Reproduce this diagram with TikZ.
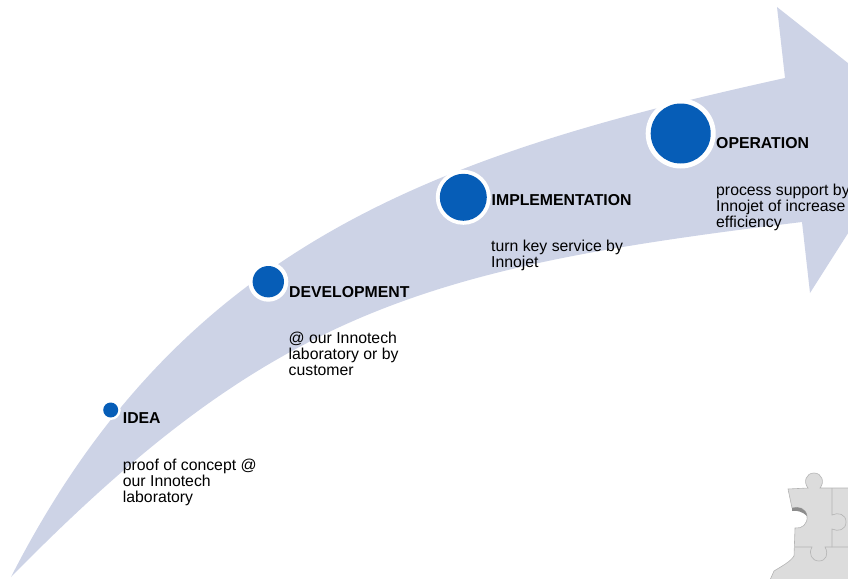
\documentclass[tikz,border=0pt]{standalone}
\usepackage{fontspec}
\setmainfont{Liberation Sans}
\begin{document}
\definecolor{bandfill}{HTML}{CDD3E6}
\definecolor{dotblue}{HTML}{065DB7}
\definecolor{puzzle}{HTML}{DCDCDC}
\definecolor{puzzleedge}{HTML}{B4B4B4}
\tikzset{
  head/.style={anchor=base west, inner sep=0pt, font=\fontsize{15.8}{16}\selectfont\bfseries},
  body/.style={anchor=base west, inner sep=0pt, font=\fontsize{15.8}{16}\selectfont},
  ring/.style={fill=white},
  dot/.style={fill=dotblue},
}
\newcommand{\lines}[1]{\begin{tabular}[t]{@{}l@{}}#1\end{tabular}}
\begin{tikzpicture}[x=1pt,y=-1pt]
  \useasboundingbox (0,0) rectangle (848,578);
  \clip (0,0) rectangle (848,578);

  % curved arrow band
  \path[fill=bandfill]
    (11,577) .. controls (181,244) and (435,155) .. (785,78)
    -- (777,7) -- (920,120) -- (810,293) -- (802,222)
    .. controls (422,268) and (271,312) .. (11,577) -- cycle;

  % milestone dots with white rings
  \fill[ring] (110.7,410) circle (10);
  \fill[dot]  (110.7,410) coordinate (cidea) circle (7.5);
  \fill[ring] (268.3,281.7) circle (20);
  \fill[dot]  (268.3,281.7) coordinate (cdev) circle (15.7);
  \fill[ring] (463.3,197.3) circle (27.5);
  \fill[dot]  (463.3,197.3) coordinate (cimpl) circle (23.5);
  \fill[ring] (680.7,133.5) circle (35);
  \fill[dot]  (680.7,133.5) coordinate (cop) circle (30);

  % stage titles
  \node[head] (idea) at (122.7,423) {IDEA};
  \node[head] (dev)  at (289,297) {DEVELOPMENT};
  \node[head] (impl) at (491.5,205) {IMPLEMENTATION};
  \node[head] (op)   at (716,148) {OPERATION};

  % stage descriptions
  \node[body] (ideatxt) at (122.7,470) {\lines{proof of concept @\\our Innotech\\laboratory}};
  \node[body] (devtxt)  at (288.5,343.5) {\lines{@ our Innotech\\laboratory or by\\customer}};
  \node[body] (impltxt) at (491,251.5) {\lines{turn key service by\\Innojet}};
  \node[body] (optxt)   at (716,195) {\lines{process support by\\Innojet of increase\\efficiency}};

  % puzzle pieces in the corner
  \path[fill=puzzle, draw=puzzleedge, line width=0.6pt]
    (788,489) -- (808,488)
    .. controls (803,482) and (806,473) .. (814,473)
    .. controls (822,473) and (825,482) .. (820,488)
    -- (850,488) -- (850,580) -- (770,580) -- (774,571)
    .. controls (782,566) and (790,562) .. (794,556)
    -- (795,528)
    .. controls (802,529) and (808,524) .. (807,516)
    .. controls (806,508) and (798,506) .. (792,508)
    -- cycle;
  \fill[black!45] (792,508) .. controls (798,506) and (806,508) .. (807,516)
    .. controls (803,512) and (797,510) .. (792,511) -- cycle;
  \draw[puzzleedge, line width=0.6pt]
    (795,547) -- (812,547) .. controls (808,554) and (812,561) .. (819,561)
    .. controls (826,561) and (829,554) .. (825,547) -- (850,547);
  \draw[puzzleedge, line width=0.6pt]
    (832,488) -- (832,515) .. controls (838,512) and (846,514) .. (846,522)
    .. controls (846,530) and (838,532) .. (832,529) -- (832,547);
\end{tikzpicture}
\end{document}
